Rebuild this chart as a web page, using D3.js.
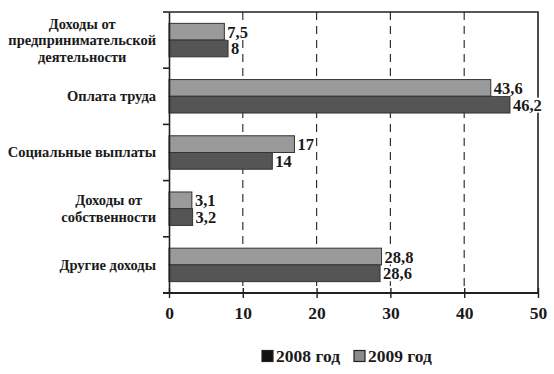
<!DOCTYPE html>
<html>
<head>
<meta charset="utf-8">
<script src="https://cdn.jsdelivr.net/npm/d3@7"></script>
<style>
  body { margin: 0; background: #fff; }
  text { font-family: "Liberation Serif", "DejaVu Serif", serif; fill: #1a1a1a; }
</style>
</head>
<body>
<svg id="chart" width="554" height="374" viewBox="0 0 554 374"></svg>
<script>
// chart data
const categories = [
	["Доходы от", "предпринимательской", "деятельности"],
	["Оплата труда"],
	["Социальные выплаты"],
	["Доходы от", "собственности"],
	["Другие доходы"]
];
const values2009 = [7.5, 43.6, 17, 3.1, 28.8];
const values2008 = [8, 46.2, 14, 3.2, 28.6];
const valueLabels2009 = ["7,5", "43,6", "17", "3,1", "28,8"];
const valueLabels2008 = ["8", "46,2", "14", "3,2", "28,6"];
const seriesNames = ["2008 год", "2009 год"];
const xTicks = [0, 10, 20, 30, 40, 50];

const svg = d3.select("#chart");
const plotLeft = 169, plotRight = 538, plotTop = 12, plotBottom = 293;

const x = d3.scaleLinear().domain([0, 50]).range([plotLeft, plotRight]);
const y = d3.scaleBand().domain(d3.range(categories.length)).range([plotTop, plotBottom]);
const inner = d3.scaleBand().domain(["2009", "2008"]).range([0, y.bandwidth()]).paddingOuter(0.68).paddingInner(0);

const col2008 = "#555", col2009 = "#9a9a9a";

// dashed grid
svg.append("g").selectAll("line")
	.data(xTicks.slice(1, -1))
	.join("line")
	.attr("x1", d => x(d)).attr("x2", d => x(d))
	.attr("y1", plotTop).attr("y2", plotBottom)
	.attr("stroke", "#333").attr("stroke-width", 1.2)
	.attr("stroke-dasharray", "8,6");

// border top / right
svg.append("path")
	.attr("d", `M${plotLeft},${plotTop}H${plotRight}V${plotBottom}`)
	.attr("fill", "none").attr("stroke", "#222").attr("stroke-width", 1.6);

const groups = svg.append("g").selectAll("g")
	.data(categories)
	.join("g")
	.attr("transform", (d, i) => `translate(0,${y(i)})`);

groups.append("rect")
	.attr("x", x(0))
	.attr("y", inner("2009"))
	.attr("width", (d, i) => x(values2009[i]) - x(0))
	.attr("height", inner.bandwidth())
	.attr("fill", col2009).attr("stroke", "#333").attr("stroke-width", 1);

groups.append("rect")
	.attr("x", x(0))
	.attr("y", inner("2008"))
	.attr("width", (d, i) => x(values2008[i]) - x(0))
	.attr("height", inner.bandwidth())
	.attr("fill", col2008).attr("stroke", "#333").attr("stroke-width", 1);

// value labels: white backing layer below, text layer above
const backLayer = groups.append("g");
const textLayer = groups.append("g");
function addLabel(vals, labels, key) {
	const t = textLayer.append("text")
		.attr("x", (d, i) => x(vals[i]) + 3)
		.attr("y", inner(key) + inner.bandwidth() / 2 + 6)
		.attr("font-size", 16.5)
		.attr("font-weight", "bold")
		.text((d, i) => labels[i]);
	t.each(function(d, i) {
		const bb = this.getBBox();
		d3.select(backLayer.nodes()[i]).append("rect")
			.attr("x", bb.x - 1).attr("y", bb.y + 2)
			.attr("width", bb.width + 2).attr("height", bb.height - 4)
			.attr("fill", "#fff");
	});
}
addLabel(values2009, valueLabels2009, "2009");
addLabel(values2008, valueLabels2008, "2008");

// category labels: block right-aligned, lines centered
groups.each(function(lines) {
	const g = d3.select(this);
	const lh = 16.5;
	const t = g.append("text")
		.attr("font-size", 14.5)
		.attr("font-weight", "bold")
		.attr("text-anchor", "middle");
	lines.forEach((ln, k) => {
		t.append("tspan").attr("x", 0)
			.attr("y", y.bandwidth() / 2 + 5 + (k - (lines.length - 1) / 2) * lh)
			.text(ln);
	});
	const w = d3.max(t.selectAll("tspan").nodes(), n => n.getComputedTextLength());
	t.attr("transform", `translate(${156 - w / 2},0)`);
});

// left axis
svg.append("g")
	.attr("transform", `translate(${plotLeft},0)`)
	.call(d3.axisLeft(y).tickValues([]).tickSizeOuter(0))
	.call(g => g.select(".domain").attr("stroke", "#222").attr("stroke-width", 1.6));
svg.append("g").selectAll("line")
	.data(d3.range(categories.length + 1))
	.join("line")
	.attr("x1", plotLeft - 6).attr("x2", plotLeft)
	.attr("y1", i => plotTop + i * y.step()).attr("y2", i => plotTop + i * y.step())
	.attr("stroke", "#222").attr("stroke-width", 1.6);

// bottom axis
const xAxis = svg.append("g")
	.attr("transform", `translate(0,${plotBottom})`)
	.call(d3.axisBottom(x).tickValues(xTicks).tickSize(5).tickPadding(9).tickSizeOuter(0));
xAxis.select(".domain").attr("d", `M${plotLeft - 6},0H${plotRight + 1}`).attr("stroke", "#222").attr("stroke-width", 1.8);
xAxis.selectAll(".tick line").attr("y1", -5).attr("stroke", "#222").attr("stroke-width", 1.4);
xAxis.selectAll(".tick text")
	.attr("font-family", "Liberation Serif, serif")
	.attr("font-size", 17.5).attr("font-weight", "bold").attr("fill", "#1a1a1a");

// legend
const legend = svg.append("g").attr("transform", "translate(262,362)");
const legItems = [{ name: seriesNames[0], col: "#111" }, { name: seriesNames[1], col: "#8a8a8a" }];
let lx = 0;
legItems.forEach(it => {
	legend.append("rect").attr("x", lx).attr("y", -11.5).attr("width", 11).attr("height", 11)
		.attr("fill", it.col).attr("stroke", "#222").attr("stroke-width", 1.2);
	const t = legend.append("text").attr("x", lx + 14).attr("y", 0)
		.attr("font-size", 17.5).attr("font-weight", "bold").text(it.name);
	lx += 14 + t.node().getComputedTextLength() + 14;
});
</script>
</body>
</html>
